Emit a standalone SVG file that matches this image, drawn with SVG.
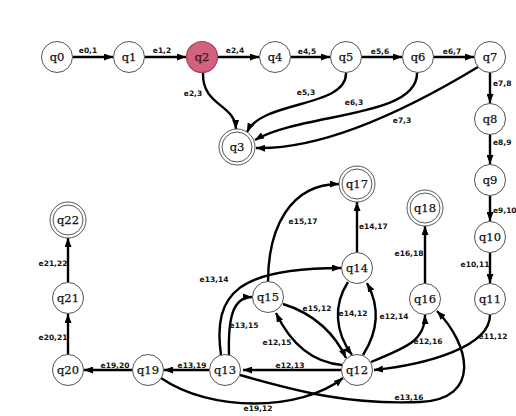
<svg xmlns="http://www.w3.org/2000/svg" width="516" height="416" viewBox="0 0 516 416">
  <defs>
    <marker id="arrow" viewBox="0 0 10 10" refX="10" refY="5" markerWidth="9" markerHeight="7" markerUnits="userSpaceOnUse" orient="auto" preserveAspectRatio="none">
      <path d="M0,0 L10,5 L0,10 Z" fill="#000"/>
    </marker>
    <style>
      .node circle { fill: #fff; stroke: #555; stroke-width: 1; }
      .node text { font-family: "DejaVu Serif", serif; font-size: 11.5px; fill: #111; stroke: #111; stroke-width: 0.25; text-anchor: middle; dominant-baseline: central; }
      .start circle { fill: #d2627d; stroke: #a8405b; stroke-width: 1.2; }
      .start text { fill: #3a1420; stroke: #3a1420; }
      .edges path { fill: none; stroke: #000; stroke-width: 2.4; marker-end: url(#arrow); }
      .lbl { font-family: "DejaVu Sans", sans-serif; font-weight: bold; font-size: 7.5px; fill: #111; text-anchor: middle; }
      .lbl.l { text-anchor: start; }
    </style>
  </defs>
  <rect width="516" height="416" fill="#fff"/>

  <g class="edges">
    <!-- top chain -->
    <path d="M73,57 L113,57"/>
    <path d="M145,57 L186,57"/>
    <path d="M218,57 L259,57"/>
    <path d="M291,57 L330,57"/>
    <path d="M362,57 L402,57"/>
    <path d="M434,57 L474,57"/>
    <!-- edges into q3 -->
    <path d="M203,73 C202,106 235,104 236,129"/>
    <path d="M346,73 C347,108 262,100 247,132"/>
    <path d="M417,73 C418,118 300,113 255,140"/>
    <path d="M478,67 C420,102 330,150 256,148"/>
    <!-- right column -->
    <path d="M490,73 L490,103"/>
    <path d="M490,135 L490,164"/>
    <path d="M490,196 L490,221"/>
    <path d="M490,253 L490,283"/>
    <path d="M490,315 C490,346 430,364 374,370"/>
    <!-- q16 / q18 -->
    <path d="M425,283 L425,226"/>
    <!-- q12 cluster -->
    <path d="M371,362 C408,347 425,340 425,315"/>
    <path d="M363,355 C379,330 379,305 367,283"/>
    <path d="M348,282 C333,305 335,332 352,355"/>
    <path d="M283,304 C316,314 336,336 346,358"/>
    <path d="M342,365 C308,362 288,338 276,313"/>
    <path d="M357,252 L357,202"/>
    <path d="M268,282 C268,228 290,184 339,184"/>
    <path d="M341,370 L243,370"/>
    <!-- from q13 -->
    <path d="M221,355 C212,292 240,268 341,268"/>
    <path d="M229,355 C228,320 232,297 252,297"/>
    <path d="M240,375 C300,392 350,405 420,402 C482,399 470,345 437,311"/>
    <path d="M209,370 L164,370"/>
    <!-- from q19 -->
    <path d="M161,378 C210,412 300,412 343,378"/>
    <path d="M132,370 L84,370"/>
    <!-- left column -->
    <path d="M68,355 L68,314"/>
    <path d="M68,282 L68,238"/>
  </g>

  <g class="labels">
    <text class="lbl" x="88" y="53">e0,1</text>
    <text class="lbl" x="162" y="53">e1,2</text>
    <text class="lbl" x="235" y="53">e2,4</text>
    <text class="lbl" x="307" y="54">e4,5</text>
    <text class="lbl" x="380" y="54">e5,6</text>
    <text class="lbl" x="452" y="54">e6,7</text>
    <text class="lbl" x="193" y="96">e2,3</text>
    <text class="lbl" x="306" y="95">e5,3</text>
    <text class="lbl" x="354" y="105">e6,3</text>
    <text class="lbl" x="402" y="123">e7,3</text>
    <text class="lbl l" x="493" y="86">e7,8</text>
    <text class="lbl l" x="493" y="145">e8,9</text>
    <text class="lbl l" x="493" y="213">e9,10</text>
    <text class="lbl" x="475" y="267">e10,11</text>
    <text class="lbl" x="493" y="339">e11,12</text>
    <text class="lbl" x="409" y="256">e16,18</text>
    <text class="lbl" x="428" y="344">e12,16</text>
    <text class="lbl" x="394" y="319">e12,14</text>
    <text class="lbl" x="353" y="316">e14,12</text>
    <text class="lbl" x="317" y="311">e15,12</text>
    <text class="lbl" x="277" y="345">e12,15</text>
    <text class="lbl" x="244" y="328">e13,15</text>
    <text class="lbl" x="214" y="282">e13,14</text>
    <text class="lbl" x="303" y="224">e15,17</text>
    <text class="lbl l" x="359" y="229">e14,17</text>
    <text class="lbl" x="290" y="368">e12,13</text>
    <text class="lbl" x="192" y="368">e13,19</text>
    <text class="lbl" x="115" y="368">e19,20</text>
    <text class="lbl" x="53" y="340">e20,21</text>
    <text class="lbl" x="53" y="266">e21,22</text>
    <text class="lbl" x="258" y="411">e19,12</text>
    <text class="lbl" x="409" y="400">e13,16</text>
  </g>

  <g id="q0" class="node"><circle cx="57" cy="57" r="15.5"/><text x="57" y="57">q0</text></g>
  <g id="q1" class="node"><circle cx="129" cy="57" r="15.5"/><text x="129" y="57">q1</text></g>
  <g id="q2" class="node start"><circle cx="202" cy="57" r="15.5"/><text x="202" y="57">q2</text></g>
  <g id="q4" class="node"><circle cx="275" cy="57" r="15.5"/><text x="275" y="57">q4</text></g>
  <g id="q5" class="node"><circle cx="346" cy="57" r="15.5"/><text x="346" y="57">q5</text></g>
  <g id="q6" class="node"><circle cx="418" cy="57" r="15.5"/><text x="418" y="57">q6</text></g>
  <g id="q7" class="node"><circle cx="490" cy="57" r="15.5"/><text x="490" y="57">q7</text></g>
  <g id="q3" class="node"><circle cx="237" cy="147" r="18"/><circle cx="237" cy="147" r="15"/><text x="237" y="147">q3</text></g>
  <g id="q8" class="node"><circle cx="490" cy="119" r="15.5"/><text x="490" y="119">q8</text></g>
  <g id="q9" class="node"><circle cx="490" cy="180" r="15.5"/><text x="490" y="180">q9</text></g>
  <g id="q10" class="node"><circle cx="490" cy="237" r="15.5"/><text x="490" y="237">q10</text></g>
  <g id="q11" class="node"><circle cx="490" cy="299" r="15.5"/><text x="490" y="299">q11</text></g>
  <g id="q16" class="node"><circle cx="425" cy="299" r="15.5"/><text x="425" y="299">q16</text></g>
  <g id="q18" class="node"><circle cx="425" cy="208" r="18"/><circle cx="425" cy="208" r="15"/><text x="425" y="208">q18</text></g>
  <g id="q17" class="node"><circle cx="357" cy="184" r="18"/><circle cx="357" cy="184" r="15"/><text x="357" y="184">q17</text></g>
  <g id="q14" class="node"><circle cx="357" cy="268" r="15.5"/><text x="357" y="268">q14</text></g>
  <g id="q15" class="node"><circle cx="268" cy="297" r="15.5"/><text x="268" y="297">q15</text></g>
  <g id="q12" class="node"><circle cx="357" cy="370" r="15.5"/><text x="357" y="370">q12</text></g>
  <g id="q13" class="node"><circle cx="225" cy="370" r="15.5"/><text x="225" y="370">q13</text></g>
  <g id="q19" class="node"><circle cx="148" cy="370" r="15.5"/><text x="148" y="370">q19</text></g>
  <g id="q20" class="node"><circle cx="68" cy="370" r="15.5"/><text x="68" y="370">q20</text></g>
  <g id="q21" class="node"><circle cx="68" cy="298" r="15.5"/><text x="68" y="298">q21</text></g>
  <g id="q22" class="node"><circle cx="68" cy="220" r="18"/><circle cx="68" cy="220" r="15"/><text x="68" y="220">q22</text></g>
</svg>
